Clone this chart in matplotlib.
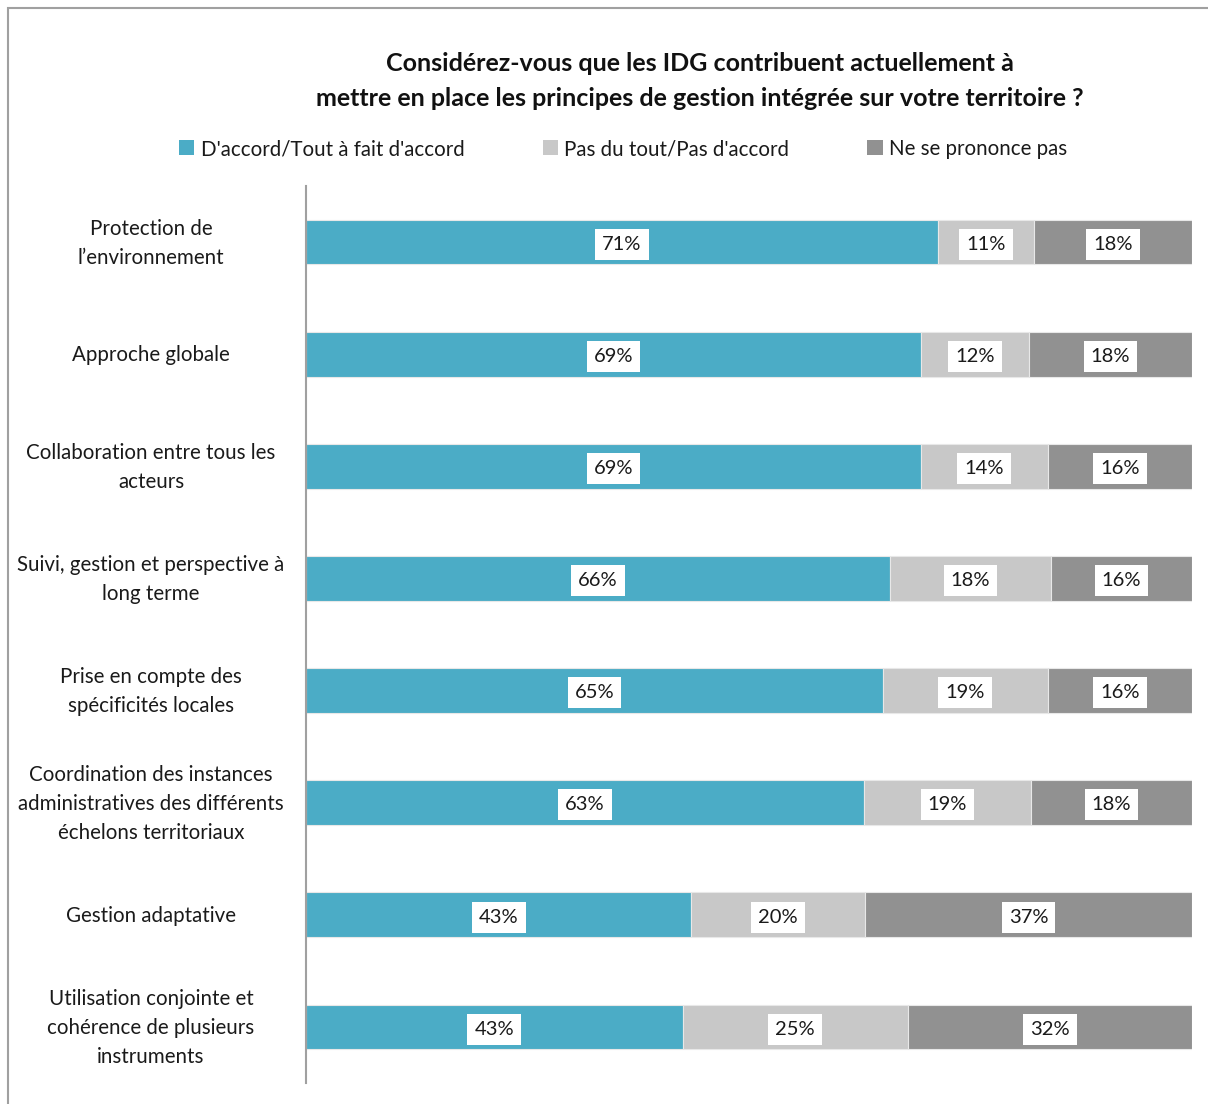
import numpy as np
import matplotlib.pyplot as plt
from matplotlib.patches import Rectangle

categories = [
    "Protection de\nl'environnement",
    "Approche globale",
    "Collaboration entre tous les\nacteurs",
    "Suivi, gestion et perspective à\nlong terme",
    "Prise en compte des\nspécificités locales",
    "Coordination des instances\nadministratives des différents\néchelons territoriaux",
    "Gestion adaptative",
    "Utilisation conjointe et\ncohérence de plusieurs\ninstruments",
]
categories[0] = categories[0].replace("'", "\u2019")

accord = [71.3, 69.4, 69.4, 65.9, 65.1, 63.0, 43.5, 42.5]
pas_accord = [10.9, 12.2, 14.3, 18.2, 18.6, 18.8, 19.6, 25.4]
ne_sait = [17.8, 18.4, 16.3, 15.9, 16.3, 18.2, 36.9, 32.1]
labels_accord = [71, 69, 69, 66, 65, 63, 43, 43]
labels_pas = [11, 12, 14, 18, 19, 19, 20, 25]
labels_ne = [18, 18, 16, 16, 16, 18, 37, 32]

series_names = ["D'accord/Tout à fait d'accord", "Pas du tout/Pas d'accord", "Ne se prononce pas"]
colors = ['#4BACC6', '#C8C8C8', '#919191']

plt.rcParams['font.family'] = ['Lato', 'DejaVu Sans']


def main():
    fig = plt.figure(figsize=(12.08, 11.04), dpi=100)
    ax = fig.add_axes([306 / 1208, 1 - 1083 / 1104, 886 / 1208, 897 / 1104])

    # outer frame (runs off the right/bottom edge)
    fig.patches.append(Rectangle((8 / 1208, -0.1), 1.2, 1 - 8 / 1104 + 0.1,
                                 transform=fig.transFigure, fill=False,
                                 edgecolor='#A0A0A0', linewidth=1.5))

    y = np.arange(len(categories))
    left = np.zeros(len(categories))
    data = [accord, pas_accord, ne_sait]
    labs = [labels_accord, labels_pas, labels_ne]
    for vals, lab, col, name in zip(data, labs, colors, series_names):
        vals = np.array(vals)
        ax.barh(y, vals, left=left, height=0.4, color=col, label=name,
                edgecolor='#E8E8E8', linewidth=0.8)
        for yi, (l, v, t) in enumerate(zip(left, vals, lab)):
            ax.text(l + v / 2, yi + 0.02, f'{t}%', ha='center', va='center', fontsize=14.5,
                    color='#1A1A1A',
                    bbox=dict(boxstyle='square,pad=0.35', facecolor='white', edgecolor='none'))
        left = left + vals

    ax.set_xlim(0, 100)
    ax.set_ylim(len(categories) - 0.5, -0.5)
    ax.set_xticks([])
    ax.set_yticks([])
    for s in ['top', 'right', 'bottom']:
        ax.spines[s].set_visible(False)
    ax.spines['left'].set_color('#A0A0A0')
    ax.spines['left'].set_linewidth(1.5)

    for yi, c in enumerate(categories):
        ax.text(-17.5, yi + 0.01, c, ha='center', va='center', fontsize=14.8,
                color='#1A1A1A', linespacing=1.55, clip_on=False)

    fig.text(700 / 1208, 1 - 81 / 1104,
             "Considérez-vous que les IDG contribuent actuellement à\n"
             "mettre en place les principes de gestion intégrée sur votre territoire ?",
             ha='center', va='center', fontsize=18, fontweight='bold',
             linespacing=1.6, color='#111111')

    leg = fig.legend(loc='center', bbox_to_anchor=(623 / 1208, 1 - 149 / 1104),
                     ncol=3, frameon=False, fontsize=14.8, handlelength=0.75,
                     handleheight=0.75, handletextpad=0.3, columnspacing=3.8)
    for h in leg.legend_handles:
        h.set_edgecolor('none')
    for t in leg.get_texts():
        t.set_color('#1A1A1A')

    fig.savefig('out.png', dpi=100)


if __name__ == '__main__':
    main()
